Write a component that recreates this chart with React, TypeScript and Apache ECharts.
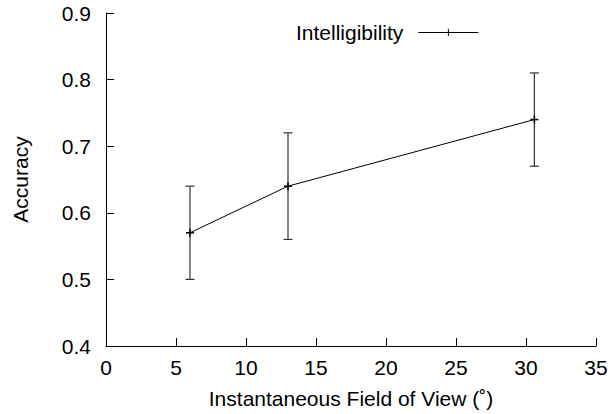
import React, { useEffect, useRef } from "react";
import * as echarts from "echarts";

const fovDegrees = [6, 13, 30.6];
const accuracy = [0.57, 0.64, 0.74];
const errLow = [0.5, 0.56, 0.67];
const errHigh = [0.64, 0.72, 0.81];
const seriesName = "Intelligibility";

const FONT = "'Liberation Sans', Arial, Helvetica, sans-serif";
const FS = 21;

export default function App() {
  const ref = useRef<HTMLDivElement>(null);
  useEffect(() => {
    if (!ref.current) return;
    const chart = echarts.init(ref.current, null, { renderer: "svg" });
    const points = fovDegrees.map((x, i) => [x, accuracy[i]]);
    const bars = fovDegrees.map((x, i) => [x, errLow[i], errHigh[i], accuracy[i]]);
    chart.setOption({
      animation: false,
      textStyle: { fontFamily: FONT },
      grid: { left: 106, right: 16, top: 13, bottom: 68, containLabel: false },
      legend: {
        data: [{ name: seriesName, icon: "path://M0,0 M10,3.1H70V3.9H10Z M39.5,0H40.5V7H39.5Z" }],
        left: 296,
        top: 22,
        padding: 0,
        align: "right",
        itemWidth: 70,
        itemHeight: 7,
        textStyle: { fontSize: FS, color: "#000", fontFamily: FONT },
        selectedMode: false,
        itemStyle: { color: "#000" },
      },
      xAxis: {
        type: "value",
        min: 0,
        max: 35,
        interval: 5,
        name: "Instantaneous Field of View (˚)",
        nameLocation: "middle",
        nameGap: 42,
        nameTextStyle: { fontSize: FS, color: "#000", fontFamily: FONT },
        axisLine: { lineStyle: { color: "#000", width: 1 } },
        axisTick: { inside: true, length: 8, lineStyle: { color: "#000" } },
        axisLabel: { fontSize: FS, color: "#000", margin: 11, fontFamily: FONT },
        splitLine: { show: false },
      },
      yAxis: {
        type: "value",
        min: 0.4,
        max: 0.9,
        interval: 0.1,
        name: "Accuracy",
        nameLocation: "middle",
        nameGap: 75,
        nameTextStyle: { fontSize: FS, color: "#000", fontFamily: FONT },
        axisLine: { show: true, lineStyle: { color: "#000", width: 1 } },
        axisTick: { show: true, inside: true, length: 8, lineStyle: { color: "#000" } },
        axisLabel: {
          fontSize: FS,
          color: "#000",
          margin: 15,
          fontFamily: FONT,
          formatter: (v: number) => v.toFixed(1),
        },
        splitLine: { show: false },
      },
      series: [
        {
          name: seriesName,
          type: "line",
          data: points,
          showSymbol: false,
          lineStyle: { color: "#000", width: 1 },
          itemStyle: { color: "#000" },
          z: 3,
        },
        {
          type: "custom",
          data: bars,
          z: 4,
          renderItem: (params: any, api: any) => {
            const x = api.value(0);
            const lo = api.coord([x, api.value(1)]);
            const hi = api.coord([x, api.value(2)]);
            const c = api.coord([x, api.value(3)]);
            const cap = 4.5;
            const pl = 4;
            const st = { stroke: "#333", lineWidth: 1.2 };
            return {
              type: "group",
              children: [
                { type: "line", shape: { x1: lo[0], y1: lo[1], x2: hi[0], y2: hi[1] }, style: st },
                { type: "line", shape: { x1: lo[0] - cap, y1: lo[1], x2: lo[0] + cap, y2: lo[1] }, style: st },
                { type: "line", shape: { x1: hi[0] - cap, y1: hi[1], x2: hi[0] + cap, y2: hi[1] }, style: st },
                { type: "line", shape: { x1: c[0] - pl, y1: c[1], x2: c[0] + pl, y2: c[1] }, style: { stroke: "#000", lineWidth: 1.5 } },
                { type: "line", shape: { x1: c[0], y1: c[1] - pl, x2: c[0], y2: c[1] + pl }, style: { stroke: "#000", lineWidth: 1.5 } },
              ],
            };
          },
        },
      ],
    });
    return () => chart.dispose();
  }, []);
  return <div ref={ref} style={{ width: 612, height: 414, position: "fixed", left: 0, top: 0, background: "#fff" }} />;
}
